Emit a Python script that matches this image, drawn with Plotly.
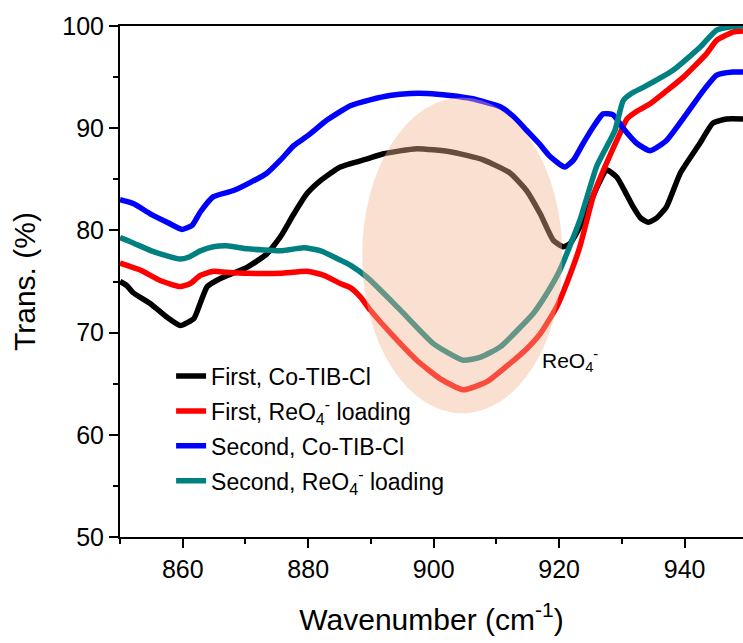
import plotly.graph_objects as go

# ---- spectra: wavenumber (cm^-1) and transmittance (%) ----
wn_first_co = [850, 851.1, 852.1, 854.9, 857.5, 859.6, 861.8, 862.8, 863.9, 866, 868, 870.3,
               873.4, 875.6, 877.7, 879.8, 882, 885.1, 889.4, 892, 897.3, 902.6, 907.9, 912.2,
               914.8, 917, 919.1, 920.7, 921.7, 923, 924.5, 926, 927.6, 929.2, 930.5, 931.8,
               933, 934.2, 935.5, 937.1, 939.3, 942.4, 944.5, 946.7, 949.3]
tr_first_co = [75.0, 74.6, 73.9, 72.8, 71.5, 70.7, 71.4, 72.9, 74.5, 75.3, 75.8, 76.4,
               77.7, 79.4, 81.6, 83.6, 84.9, 86.2, 87.0, 87.5, 88.0, 87.7, 86.9, 85.6,
               83.9, 81.6, 79.0, 78.4, 78.7, 80.0, 82.0, 84.2, 85.9, 85.2, 83.8, 82.3,
               81.2, 80.8, 81.2, 82.3, 85.6, 88.5, 90.5, 90.9, 90.9]

wn_first_re = [850, 853.3, 856.4, 859.6, 861.2, 862.8, 864.9, 867, 870.3, 875.6, 879.8, 882.5,
               885.1, 886.7, 888.3, 889.9, 893.5, 897.3, 901, 904.7, 908.5, 912.2, 914.8, 917,
               919.6, 921.5, 923.3, 925.5, 927, 929.7, 930.8, 932.5, 934.5, 937, 939.8, 943.5,
               945.1, 947.7, 949.3]
tr_first_re = [76.8, 76.1, 75.1, 74.5, 74.8, 75.6, 76.0, 75.9, 75.8, 75.8, 76.0, 75.6,
               74.8, 74.4, 73.5, 72.2, 69.7, 67.3, 65.5, 64.4, 65.2, 67.0, 68.4, 69.9,
               72.5, 75.3, 78.4, 83.5, 85.8, 89.5, 90.9, 91.7, 92.4, 93.6, 95.0, 97.3,
               98.6, 99.4, 99.5]

wn_second_co = [850, 852.2, 854.9, 857.5, 859.9, 861.5, 862.8, 864.9, 868.1, 870.8, 873.4, 875.6,
                877.7, 880, 883, 886.7, 890, 893, 896.3, 899, 902.6, 906, 910.6, 912.8,
                914.8, 916.8, 918.6, 920.9, 922.3, 923.8, 925.4, 927, 928.6, 930.2, 932.4, 934.5,
                937.1, 940.3, 943, 945.1, 947.7, 949.3]
tr_second_co = [83.0, 82.6, 81.6, 80.8, 80.1, 80.5, 81.8, 83.3, 83.9, 84.7, 85.6, 86.9,
                88.3, 89.3, 90.8, 92.2, 92.8, 93.2, 93.4, 93.4, 93.2, 92.9, 92.1, 91.1,
                89.8, 88.5, 87.2, 86.2, 86.9, 88.5, 90.1, 91.4, 91.3, 90.0, 88.5, 87.8,
                88.8, 91.4, 93.7, 95.2, 95.5, 95.5]

wn_second_re = [850, 852, 855, 857.5, 859.6, 861, 862.8, 864.9, 867, 870.3, 875.6, 879.3,
                882, 885.1, 886.7, 889.4, 894.7, 900, 904.7, 907.5, 910.6, 915.9, 918, 920.1,
                923.3, 926, 928.9, 930.2, 931.5, 933.4, 938.2, 942.4, 945.1, 947.2, 949.3]
tr_second_re = [79.3, 78.8, 78.0, 77.5, 77.2, 77.4, 78.0, 78.4, 78.5, 78.2, 78.0, 78.3,
                78.0, 77.1, 76.6, 75.4, 72.2, 68.9, 67.3, 67.6, 68.6, 71.9, 73.8, 76.1,
                81.0, 86.3, 89.8, 92.7, 93.4, 94.0, 95.7, 97.9, 99.6, 99.9, 100.0]

series = [
    ("First, Co-TIB-Cl", wn_first_co, tr_first_co, "#000000"),
    ("First, ReO<sub>4</sub><sup>-</sup> loading", wn_first_re, tr_first_re, "#ff0000"),
    ("Second, Co-TIB-Cl", wn_second_co, tr_second_co, "#0000ff"),
    ("Second, ReO<sub>4</sub><sup>-</sup> loading", wn_second_re, tr_second_re, "#008080"),
]

x_ticks = [860, 880, 900, 920, 940]
y_ticks = [50, 60, 70, 80, 90, 100]

# highlighted ReO4- band region
band_x = (888.6, 920.5)
band_y = (62.1, 93.0)

FONT = "Arial, Liberation Sans, sans-serif"

fig = go.Figure()
for i, (name, xs, ys, col) in enumerate(series):
    fig.add_trace(go.Scatter(x=xs, y=ys, mode="lines", name=name, legendgroup=f"g{i}",
                             line=dict(color=col, width=5.5, shape="spline", smoothing=0.5)))

fig.add_shape(type="circle", xref="x", yref="y",
              x0=band_x[0], x1=band_x[1], y0=band_y[0], y1=band_y[1],
              fillcolor="rgba(240,180,145,0.42)", line=dict(width=0), layer="above")

fig.add_annotation(x=916.9, y=67.3, xref="x", yref="y", xanchor="left", yanchor="middle",
                   text="ReO<sub>4</sub><sup>-</sup>", showarrow=False,
                   font=dict(family=FONT, size=21, color="black"))

fig.update_layout(
    width=743, height=643,
    margin=dict(l=120, r=0, t=26, b=106),
    plot_bgcolor="white", paper_bgcolor="white",
    font=dict(family=FONT, color="black"),
    showlegend=True,
    legend=dict(x=0.082, y=0.357, xanchor="left", yanchor="top",
                bgcolor="rgba(0,0,0,0)", font=dict(family=FONT, size=23, color="black"),
                traceorder="grouped", tracegroupgap=2, itemwidth=30),
)

fig.update_xaxes(
    range=[850, 949.3], tickvals=x_ticks, ticks="outside", ticklen=9, tickwidth=1.5,
    showline=True, linecolor="black", linewidth=2, mirror=True, showgrid=False, zeroline=False,
    tickfont=dict(size=25, family=FONT), tickcolor="black",
    minor=dict(dtick=10, ticks="outside", ticklen=5, tickwidth=1.5, tickcolor="black", showgrid=False),
    title=dict(text="Wavenumber (cm<sup>-1</sup>)", font=dict(size=30, family=FONT), standoff=27),
)
fig.update_yaxes(
    range=[50, 100], tickvals=y_ticks, ticks="outside", ticklen=9, tickwidth=1.5,
    showline=True, linecolor="black", linewidth=2, mirror=False, showgrid=False, zeroline=False,
    tickfont=dict(size=25, family=FONT), tickcolor="black",
    minor=dict(dtick=5, ticks="outside", ticklen=5, tickwidth=1.5, tickcolor="black", showgrid=False),
    title=dict(text="Trans. (%)", font=dict(size=30, family=FONT), standoff=18),
)

fig.write_html("out.html")
